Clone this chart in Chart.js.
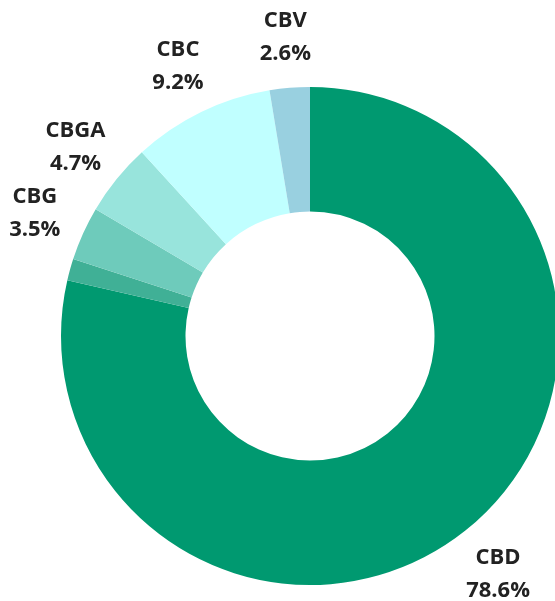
<!DOCTYPE html>
<html>
<head>
<meta charset="utf-8">
<script src="https://cdn.jsdelivr.net/npm/chart.js@4/dist/chart.umd.min.js"></script>
<style>
html,body{margin:0;padding:0;background:#fff;overflow:hidden;width:555px;height:601px;}
canvas{display:block;}
</style>
</head>
<body>
<canvas id="c" width="620" height="601"></canvas>
<script>
const categories = ['CBD', 'Other', 'CBG', 'CBGA', 'CBC', 'CBV'];
const shares = [78.6, 1.4, 3.5, 4.7, 9.2, 2.6];
const showLabel = [true, false, true, true, true, true];
const colors = ['#009970', '#40B096', '#6ECBBB', '#98E4DC', '#C0FFFF', '#99D0E0'];

const labelPlugin = {
  id: 'outerLabels',
  afterDatasetsDraw(chart) {
    const ctx = chart.ctx;
    const meta = chart.getDatasetMeta(0);
    ctx.save();
    ctx.font = 'bold 22px "Open Sans"';
    ctx.fillStyle = '#222222';
    ctx.textAlign = 'center';
    ctx.textBaseline = 'alphabetic';
    meta.data.forEach((arc, i) => {
      if (!showLabel[i]) return;
      const p = arc.getProps(['startAngle', 'endAngle', 'x', 'y', 'outerRadius'], true);
      const mid = (p.startAngle + p.endAngle) / 2;
      const r = p.outerRadius + 53;
      const cx = p.x + Math.cos(mid) * r;
      const cy = p.y + Math.sin(mid) * r;
      ctx.fillText(categories[i], cx, cy - 8.5);
      ctx.fillText(shares[i].toFixed(1) + '%', cx, cy + 24.5);
    });
    ctx.restore();
  }
};

new Chart(document.getElementById('c'), {
  type: 'doughnut',
  data: {
    labels: categories,
    datasets: [{
      data: shares,
      backgroundColor: colors,
      borderWidth: 0
    }]
  },
  options: {
    responsive: false,
    animation: false,
    cutout: '50%',
    layout: { padding: { top: 87, left: 61, right: 61, bottom: 16 } },
    plugins: { legend: { display: false }, tooltip: { enabled: false } }
  },
  plugins: [labelPlugin]
});
</script>
</body>
</html>
